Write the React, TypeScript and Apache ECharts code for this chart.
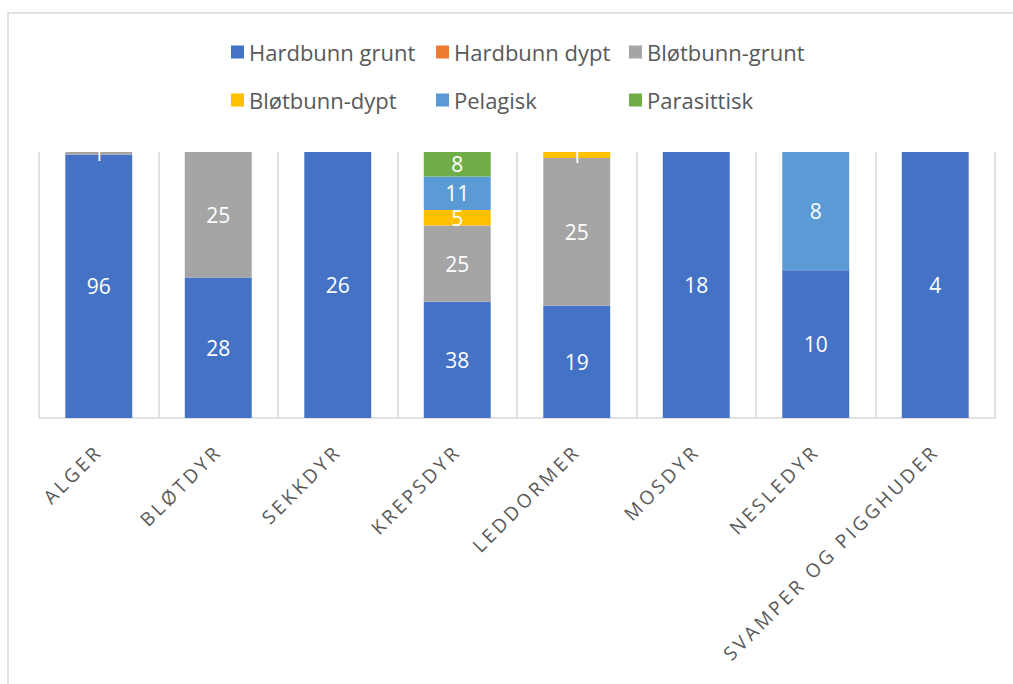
import React, { useEffect, useRef } from "react";
import * as echarts from "echarts";

const categories = [
  "ALGER",
  "BLØTDYR",
  "SEKKDYR",
  "KREPSDYR",
  "LEDDORMER",
  "MOSDYR",
  "NESLEDYR",
  "SVAMPER OG PIGGHUDER",
];

const seriesNames = [
  "Hardbunn grunt",
  "Hardbunn dypt",
  "Bløtbunn-grunt",
  "Bløtbunn-dypt",
  "Pelagisk",
  "Parasittisk",
];

const hardbunnGrunt = [96, 28, 26, 38, 19, 18, 10, 4];
const hardbunnDypt = [0, 0, 0, 0, 0, 0, 0, 0];
const blotbunnGrunt = [1, 25, 0, 25, 25, 0, 0, 0];
const blotbunnDypt = [0, 0, 0, 5, 1, 0, 0, 0];
const pelagisk = [0, 0, 0, 11, 0, 0, 8, 0];
const parasittisk = [0, 0, 0, 8, 0, 0, 0, 0];

const colors = ["#4472C4", "#ED7D31", "#A5A5A5", "#FFC000", "#5B9BD5", "#70AD47"];

const legendPos = [
  { left: 226, top: 36 },
  { left: 431, top: 36 },
  { left: 624, top: 36 },
  { left: 226, top: 84 },
  { left: 431, top: 84 },
  { left: 624, top: 84 },
];

const FONT = "'Open Sans', 'DejaVu Sans', sans-serif";

export default function App() {
  const ref = useRef<HTMLDivElement>(null);

  useEffect(() => {
    document.body.style.margin = "0";
    if (!ref.current) return;
    const chart = echarts.init(ref.current, undefined, { renderer: "svg" });

    const all = [hardbunnGrunt, hardbunnDypt, blotbunnGrunt, blotbunnDypt, pelagisk, parasittisk];
    const totals = categories.map((_, i) => all.reduce((s, arr) => s + arr[i], 0));

    const series = all.map((arr, si) => ({
      name: seriesNames[si],
      type: "bar",
      stack: "total",
      barWidth: "56%",
      itemStyle: { color: colors[si] },
      label: {
        show: true,
        position: "inside",
        color: "#ffffff",
        fontSize: 21,
        lineHeight: 16,
        fontFamily: FONT,
        formatter: (p: any) => String(p.data.raw),
      },
      data: arr.map((v, i) => ({
        value: totals[i] ? (v / totals[i]) * 100 : 0,
        raw: v,
        label: v > 0 ? undefined : { show: false },
      })),
    }));

    const legends = seriesNames.map((n, i) => ({
      data: [n],
      left: legendPos[i].left,
      top: legendPos[i].top,
      itemWidth: 13,
      itemHeight: 13,
      icon: "rect",
      selectedMode: false,
      textStyle: { color: "#595959", fontSize: 22, fontFamily: FONT },
    }));

    chart.setOption({
      animation: false,
      backgroundColor: "#ffffff",
      legend: legends,
      grid: { left: 39, right: 18, top: 152, bottom: 266, containLabel: false },
      xAxis: {
        type: "category",
        data: categories,
        axisLine: { show: true, lineStyle: { color: "#d9d9d9", width: 1.5 } },
        axisTick: { show: false },
        splitLine: { show: true, lineStyle: { color: "#d9d9d9", width: 1.5 } },
        axisLabel: {
          rotate: 45,
          interval: 0,
          margin: 30,
          color: "#595959",
          fontSize: 19,
          fontFamily: FONT,
        },
      },
      yAxis: {
        type: "value",
        min: 0,
        max: 100,
        show: false,
      },
      graphic: [
        {
          type: "rect",
          shape: { x: 8, y: 13, width: 1100, height: 800 },
          style: { fill: "none", stroke: "#d9d9d9", lineWidth: 1.5 },
          silent: true,
        },
      ],
      series,
    });

    // Excel-style letter spacing on the category labels
    const svg = ref.current.querySelector("svg");
    if (svg) {
      svg.querySelectorAll("text").forEach((t) => {
        if (categories.includes((t.textContent || "").trim())) {
          t.setAttribute("letter-spacing", "3.2px");
        }
      });
    }

    return () => chart.dispose();
  }, []);

  return <div ref={ref} style={{ width: 1013, height: 684 }} />;
}
